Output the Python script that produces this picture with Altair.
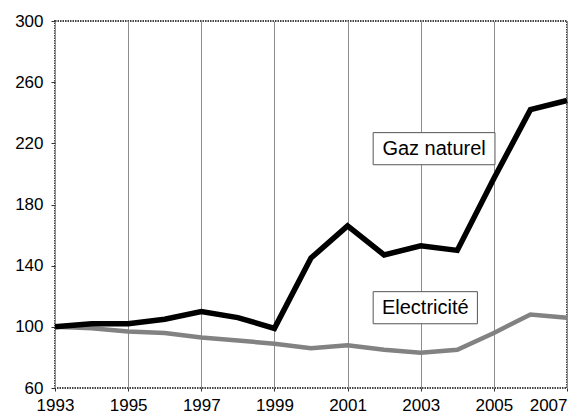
import altair as alt
import pandas as pd

years = list(range(1993, 2008))
gaz = [100, 102, 102, 105, 110, 106, 99, 145, 166, 147, 153, 150, 197, 242, 248]
elec = [100, 99, 97, 96, 93, 91, 89, 86, 88, 85, 83, 85, 96, 108, 106]

# annotation boxes (data space): label, x0, x1, y0, y1
ann_labels = ["Gaz naturel", "Electricité"]
ann_x0 = [2001.7, 2001.7]
ann_x1 = [2005.03, 2004.55]
ann_y0 = [206, 102]
ann_y1 = [227, 123]

df = pd.DataFrame({"year": years * 2,
                   "value": gaz + elec,
                   "serie": ["Gaz naturel"] * len(years) + ["Electricité"] * len(years)})
ann = pd.DataFrame({"label": ann_labels, "x0": ann_x0, "x1": ann_x1, "y0": ann_y0, "y1": ann_y1})
ann["xc"] = (ann["x0"] + ann["x1"]) / 2
ann["yc"] = (ann["y0"] + ann["y1"]) / 2

FONT = "Liberation Sans"

xscale = alt.Scale(domain=[1993, 2007], nice=False, zero=False)
yscale = alt.Scale(domain=[60, 300], nice=False, zero=False)

xaxis = alt.Axis(values=list(range(1993, 2008, 2)), format="d", grid=True, gridColor="#8c8c8c",
                 gridWidth=1, domain=False, ticks=True, tickSize=3, tickColor="#333",
                 labelFontSize=17, labelFont=FONT, labelColor="black", labelPadding=6, title=None,
                 labelFlush=False,
                 labelAlign=alt.expr("datum.value == 2007 ? 'right' : 'center'"))
yaxis = alt.Axis(values=list(range(60, 301, 40)), grid=False, domain=False, ticks=True, tickSize=4,
                 tickColor="#333", labelFontSize=17, labelFont=FONT, labelColor="black",
                 labelPadding=8, title=None)

elec_line = alt.Chart(df[df.serie == "Electricité"]).mark_line(color="#828282", strokeWidth=4.5).encode(
    x=alt.X("year:Q", scale=xscale, axis=xaxis),
    y=alt.Y("value:Q", scale=yscale, axis=yaxis))

gaz_line = alt.Chart(df[df.serie == "Gaz naturel"]).mark_line(color="black", strokeWidth=5.5,
                                                               strokeJoin="miter").encode(
    x=alt.X("year:Q", scale=xscale), y=alt.Y("value:Q", scale=yscale))

boxes = alt.Chart(ann).mark_rect(fill="white", stroke="#555", strokeWidth=1).encode(
    x=alt.X("x0:Q", scale=xscale), x2="x1", y=alt.Y("y0:Q", scale=yscale), y2="y1")

texts = alt.Chart(ann).mark_text(font=FONT, fontSize=20, color="black").encode(
    x=alt.X("xc:Q", scale=xscale), y=alt.Y("yc:Q", scale=yscale), text="label:N")

chart = alt.layer(elec_line, gaz_line, boxes, texts).properties(
    width=512, height=367,
    autosize=alt.AutoSizeParams(type="none"),
    padding={"left": 47, "top": 13, "right": 11, "bottom": 30},
    background="white"
).configure_view(stroke="#444", strokeWidth=2, strokeDash=[1.5, 1])

chart.save("out.html", embed_options={"renderer": "svg", "actions": False})
